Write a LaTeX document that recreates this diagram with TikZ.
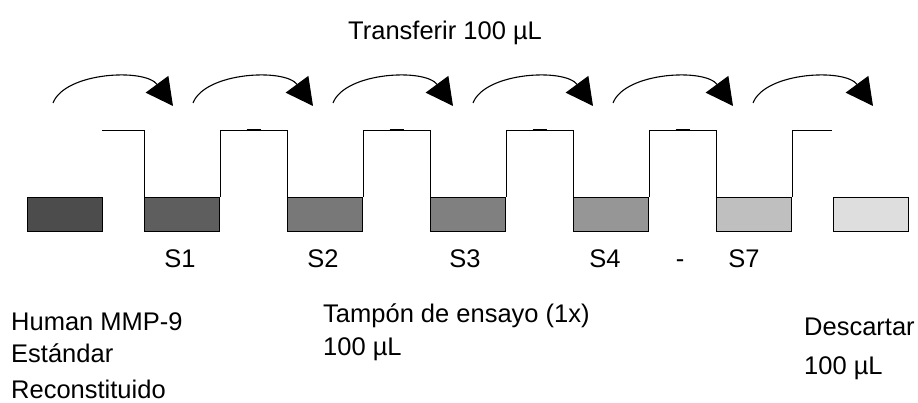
\documentclass[tikz,border=0pt]{standalone}
\usepackage{fontspec}
\setmainfont{Liberation Sans}
\usetikzlibrary{arrows.meta,calc}
\begin{document}
\begin{tikzpicture}[x=1pt,y=-1pt,
    txt/.style={font=\fontsize{25.5}{30}\selectfont, inner sep=0pt, anchor=base west},
    well/.style={draw=black, line width=1.3pt, minimum width=75pt, minimum height=34pt, inner sep=0pt, anchor=north west},
    jump/.style={line width=1.1pt, -{Triangle[length=27pt,width=28pt]}}]
    \useasboundingbox (0,0) rectangle (918,403);
    % tubes
    \node[well, fill=black!70] (w0) at (27,197) {};
    \node[well, fill=black!63] (w1) at (144,197) {};
    \node[well, fill=black!53] (w2) at (287,197) {};
    \node[well, fill=black!50] (w3) at (430,197) {};
    \node[well, fill=black!41] (w4) at (573,197) {};
    \node[well, fill=black!25] (w5) at (716,197) {};
    \node[well, fill=black!13] (w6) at (833,197) {};
    % wave line
    \coordinate (top0) at (102,130);
    \coordinate (top6) at (832,130);
    \draw[line width=0.9pt] (top0) -- (w1.north west |- top0) -- (w1.north west);
    \foreach \i/\j in {1/2,2/3,3/4,4/5} {
        \draw[line width=0.9pt] (w\i.north east) -- (w\i.north east |- top0) -- (w\j.north west |- top0) -- (w\j.north west);
        \coordinate (m\i) at ($(w\i.north east |- top0)!0.5!(w\j.north west |- top0)$);
        \draw[line width=2pt] ([xshift=-7pt]m\i) -- ([xshift=7pt]m\i);
    }
    \draw[line width=0.9pt] (w5.north east) -- (w5.north east |- top0) -- (top6);
    % transfer arrows
    \foreach \k in {0,...,5} {
        \coordinate (a\k) at (53+140*\k,103);
        \coordinate (b\k) at (173+140*\k,106);
        \draw[jump] (a\k) .. controls ++(12,-31) and ++(-28,-38) .. (b\k);
    }
    % labels
    \node[txt] (tr) at (348,40) {Transferir 100 µL};
    \node[txt, anchor=base] (s1) at (180,268) {S1};
    \node[txt, anchor=base] (s2) at (323,268) {S2};
    \node[txt, anchor=base] (s3) at (465,268) {S3};
    \node[txt, anchor=base] (s4) at (605,268) {S4};
    \node[txt, anchor=base] (dash) at (680,268) {-};
    \node[txt, anchor=base] (s7) at (744,268) {S7};
    \node[txt] (std1) at (11,330) {Human MMP-9};
    \node[txt] (std2) at (11,362) {Estándar};
    \node[txt] (std3) at (11,398) {Reconstituido};
    \node[txt] (buf1) at (323,323) {Tampón de ensayo (1x)};
    \node[txt] (buf2) at (323,355) {100 µL};
    \node[txt] (dis1) at (804,335) {Descartar};
    \node[txt] (dis2) at (804,374) {100 µL};
\end{tikzpicture}
\end{document}
